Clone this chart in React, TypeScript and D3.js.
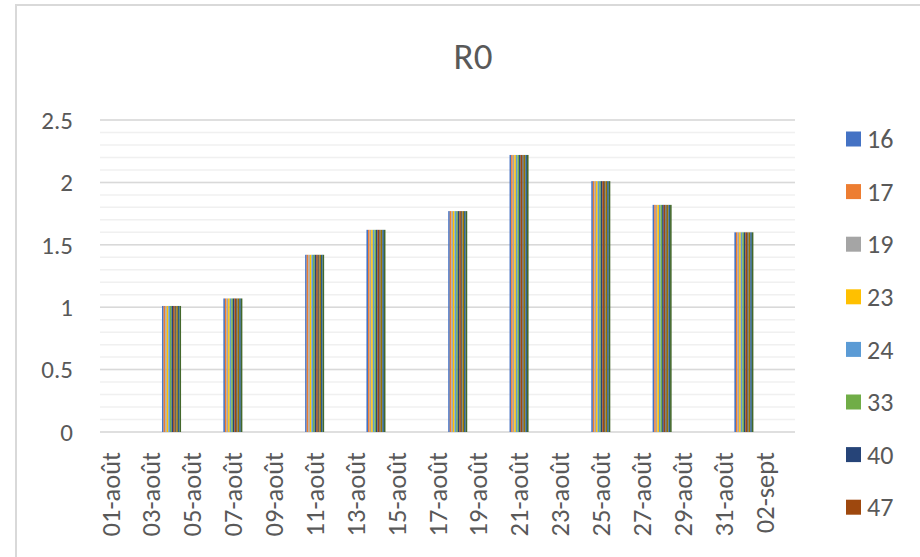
import React from "react";
import * as d3 from "d3";

const categories = [
  "01-août","02-août","03-août","04-août","05-août","06-août","07-août","08-août","09-août","10-août",
  "11-août","12-août","13-août","14-août","15-août","16-août","17-août","18-août","19-août","20-août",
  "21-août","22-août","23-août","24-août","25-août","26-août","27-août","28-août","29-août","30-août",
  "31-août","01-sept","02-sept","03-sept",
];
const tickLabels = [
  "01-août","03-août","05-août","07-août","09-août","11-août","13-août","15-août","17-août",
  "19-août","21-août","23-août","25-août","27-août","29-août","31-août","02-sept",
];
const barDates = ["04-août","07-août","11-août","14-août","18-août","21-août","25-août","28-août","01-sept"];
const r0Values = [1.01, 1.07, 1.42, 1.62, 1.77, 2.22, 2.01, 1.82, 1.6];
const seriesNames = ["16","17","19","23","24","33","40","47","64","65","81","82"];
const seriesColors = ["#4472C4","#ED7D31","#A5A5A5","#FFC000","#5B9BD5","#70AD47","#264478","#9E480E","#636363","#997300","#255E91","#43682B"];
const yTicks = [0, 0.5, 1, 1.5, 2, 2.5];

const FONT = "Carlito, Calibri, 'Liberation Sans', Arial, sans-serif";
const TXT = "#595959";

export default function App() {
  const W = 920, H = 557;
  const left = 100, right = 795, top = 120, bottom = 432;
  const x = d3.scaleBand<string>().domain(categories).range([left, right]).paddingInner(0).paddingOuter(0);
  const y = d3.scaleLinear().domain([0, 2.5]).range([bottom, top]);
  const groupW = x.step() * 0.93;
  const inner = d3.scaleBand<string>().domain(seriesNames).range([0, groupW]);
  const minor = d3.range(0, 26).map((i) => i / 10);
  const legendItems = seriesNames
    .map((s, i) => ({ s, i, cy: 139 + i * 52.6 }))
    .filter((d) => d.cy + 12 < H);

  return (
    <svg width={W} height={H} style={{ position: "absolute", left: 0, top: 0, background: "#fff" }} fontFamily={FONT}>
      <rect x={16} y={5} width={W + 20} height={H + 20} fill="#fff" stroke="#d9d9d9" strokeWidth={2} />
      <text x={473} y={69} textAnchor="middle" fontSize={37} fill={TXT}>R0</text>
      {minor.map((v) => (
        <line key={"m" + v} x1={left} x2={right} y1={y(v)} y2={y(v)} stroke="#f0f0f0" strokeWidth={1.5} />
      ))}
      {yTicks.map((v) => (
        <g key={"t" + v}>
          <line x1={left} x2={right} y1={y(v)} y2={y(v)} stroke="#d9d9d9" strokeWidth={1.5} />
          <text x={73} y={y(v)} dy="0.35em" textAnchor="end" fontSize={25} fill={TXT}>{String(v)}</text>
        </g>
      ))}
      {barDates.map((d, i) => {
        const gx = (x(d) as number) + (x.step() - groupW) / 2;
        return seriesNames.map((s, j) => (
          <rect key={d + s} x={gx + (inner(s) as number)} y={y(r0Values[i])} width={inner.bandwidth()}
            height={y(0) - y(r0Values[i])} fill={seriesColors[j]} />
        ));
      })}
      {tickLabels.map((t) => {
        const cx = (x(t) as number) + x.bandwidth() / 2;
        return (
          <text key={t} transform={`translate(${cx},452) rotate(-90)`} dy="0.35em" textAnchor="end" fontSize={26.5} fill={TXT}>{t}</text>
        );
      })}
      {legendItems.map(({ s, i, cy }) => (
        <g key={"l" + s}>
          <rect x={846} y={cy - 7.5} width={15} height={15} fill={seriesColors[i]} />
          <text x={867} y={cy} dy="0.35em" fontSize={26} fill={TXT}>{s}</text>
        </g>
      ))}
    </svg>
  );
}
